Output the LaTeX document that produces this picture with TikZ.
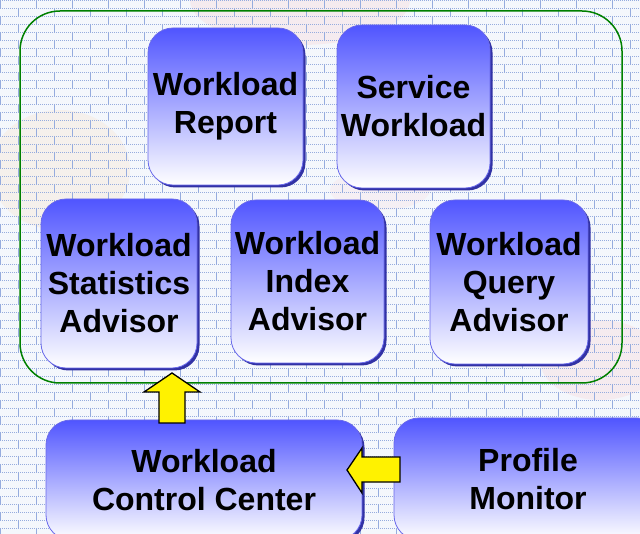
\documentclass[tikz,border=0pt]{standalone}
\usepackage{fontspec}
\setmainfont{Liberation Sans}
\usetikzlibrary{shadows}
\definecolor{boxtop}{RGB}{80,85,255}
\definecolor{boxedge}{RGB}{105,105,235}
\definecolor{boxshade}{RGB}{50,50,165}
\definecolor{framegreen}{RGB}{0,128,0}
\definecolor{paper}{RGB}{244,247,252}
\definecolor{brick}{RGB}{150,172,222}

\begin{document}
\begin{tikzpicture}[x=1pt, y=-1pt,
    stage/.style={rectangle, rounded corners=25pt, draw=boxedge, line width=0.8pt,
        top color=boxtop, bottom color=white, inner sep=0pt, align=center,
        font=\bfseries\fontsize{32}{38}\selectfont,
        drop shadow={shadow xshift=2.5pt, shadow yshift=-2.5pt, fill=boxshade, opacity=1}},
    pusher/.style={fill=yellow, draw=black, line width=1.3pt, line join=miter}]
    \useasboundingbox (0,0) rectangle (640,534);
    \clip (0,0) rectangle (640,534);

    % background
    \fill[paper] (0,0) rectangle (640,534);
    \fill[red!40, opacity=.12] (300,0) ellipse (110 and 45);
    \fill[orange!50, opacity=.12] (60,170) ellipse (70 and 60);
    \fill[red!40, opacity=.12] (600,360) ellipse (60 and 40);
    \fill[red!30, opacity=.10] (380,190) ellipse (50 and 20);
    \foreach \y in {0, 8, ..., 534}
        \draw[brick, line width=.5pt, dash pattern=on .8pt off 1.2pt] (0,\y) -- (640,\y);
    \foreach \x in {0, 36, ..., 640}
        \draw[brick, line width=.5pt, dash pattern=on 8pt off 8pt] (\x,0) -- (\x,534);
    \foreach \x in {18, 54, ..., 640}
        \draw[brick, line width=.5pt, dash pattern=on 8pt off 8pt, dash phase=8pt] (\x,0) -- (\x,534);

    % frame
    \draw[framegreen, line width=1.5pt, rounded corners=40pt] (20,11) rectangle (622,383);

    % stages
    \node[stage, minimum width=155pt, minimum height=157pt] (wr) at (225.5,106.5) {Workload\\Report};
    \node[stage, minimum width=153pt, minimum height=163pt] (sw) at (413.5,106.5) {Service\\Workload};
    \node[stage, minimum width=156pt, minimum height=169pt] (wsa) at (119,283.5) {Workload\\Statistics\\Advisor};
    \node[stage, minimum width=153pt, minimum height=163pt] (wia) at (307.5,281.5) {Workload\\Index\\Advisor};
    \node[stage, minimum width=158pt, minimum height=164pt] (wqa) at (509,282) {Workload\\Query\\Advisor};
    \node[stage, minimum width=316pt, minimum height=120pt] (wcc) at (204,480) {Workload\\Control Center};
    \node[stage, minimum width=268pt, minimum height=122pt] (pm) at (528,479) {Profile\\Monitor};

    % arrows
    \draw[pusher, shift={(172,423)}] (-13,0) -- (-13,-31) -- (-28,-31) -- (0,-50)
        -- (28,-31) -- (13,-31) -- (13,0) -- cycle;
    \draw[pusher, shift={(400,470)}] (0,-13) -- (-38,-13) -- (-38,-22) -- (-53,0)
        -- (-38,23) -- (-38,12) -- (0,12) -- cycle;
\end{tikzpicture}
\end{document}
